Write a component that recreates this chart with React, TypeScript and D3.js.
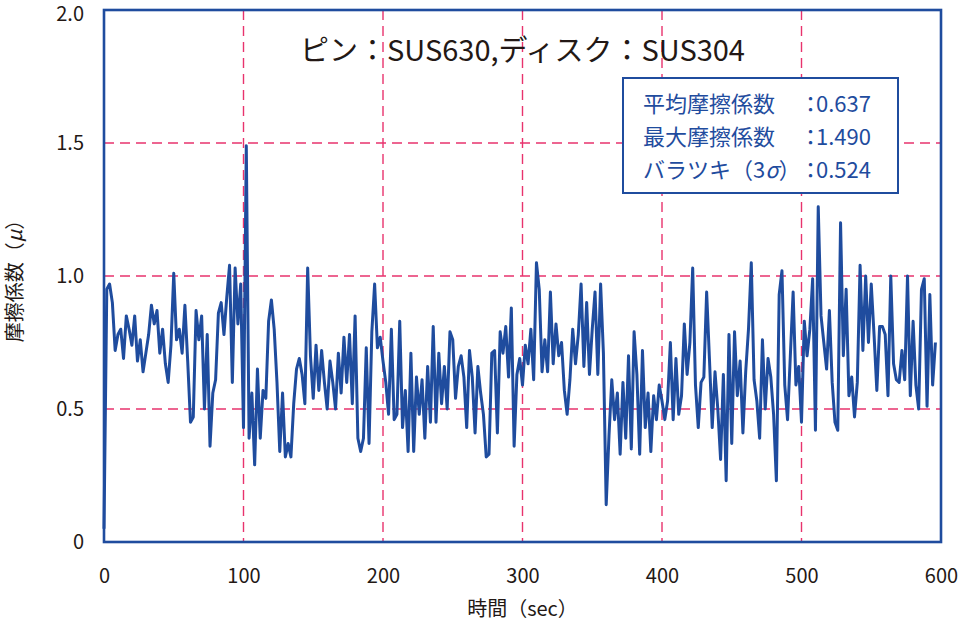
import { useEffect, useRef } from "react";
import * as d3 from "d3";

const TITLE = "ピン：SUS630,ディスク：SUS304";
const xTicks = [0, 100, 200, 300, 400, 500, 600];
const yTicks = [0, 0.5, 1.0, 1.5, 2.0];
const STEP = 2; // sec between samples

// friction coefficient, one sample every STEP seconds (0 .. 596 s)
const friction = [
  0.05, 0.95, 0.97, 0.90, 0.72, 0.78, 0.80, 0.69, 0.85, 0.80,
  0.74, 0.85, 0.68, 0.76, 0.64, 0.71, 0.78, 0.89, 0.82, 0.87,
  0.71, 0.80, 0.67, 0.60, 0.74, 1.01, 0.76, 0.80, 0.71, 0.89,
  0.68, 0.45, 0.47, 0.87, 0.76, 0.85, 0.50, 0.78, 0.36, 0.56,
  0.61, 0.86, 0.90, 0.78, 0.92, 1.04, 0.60, 1.03, 0.82, 0.97,
  0.43, 1.49,
  0.39, 0.56, 0.29, 0.65, 0.39, 0.57, 0.54, 0.83, 0.91, 0.80,
  0.60, 0.34, 0.56, 0.32, 0.37, 0.32, 0.52, 0.65, 0.69, 0.63,
  0.52, 1.03, 0.70, 0.54, 0.74, 0.57, 0.72, 0.60, 0.50, 0.68,
  0.60, 0.50, 0.71, 0.56, 0.77, 0.60, 0.78, 0.52, 0.85, 0.39,
  0.34, 0.39, 0.73, 0.37, 0.79, 0.97, 0.73, 0.77, 0.68,
  0.60, 0.48, 0.80, 0.46, 0.48, 0.83, 0.43, 0.57, 0.34, 0.71,
  0.34, 0.62, 0.48, 0.61, 0.39, 0.66, 0.45, 0.81, 0.45, 0.71,
  0.52, 0.66, 0.50, 0.79, 0.76, 0.54, 0.66, 0.70, 0.62, 0.43,
  0.72, 0.62, 0.41, 0.66, 0.56, 0.48, 0.32, 0.33, 0.71, 0.72,
  0.41, 0.79, 0.71, 0.81, 0.62, 0.88, 0.36, 0.63, 0.69, 0.59,
  0.74, 0.67, 0.80, 0.61, 1.05, 0.95, 0.64, 0.76, 0.64, 0.94,
  0.67, 0.82, 0.70, 0.75, 0.57, 0.48, 0.61, 0.80, 0.67, 0.78,
  0.97, 0.66, 0.90, 0.63, 0.80, 0.94, 0.63, 0.97, 0.71, 0.14,
  0.40, 0.61, 0.46, 0.56, 0.33, 0.60, 0.39, 0.70, 0.35, 0.79,
  0.63, 0.33, 0.72, 0.43, 0.56, 0.34, 0.55, 0.46, 0.59, 0.53,
  0.46, 0.53, 0.75, 0.46, 0.69, 0.48, 0.55, 0.82, 0.63, 0.75,
  1.03, 0.59, 0.43, 0.60, 0.62, 0.94, 0.69, 0.43, 0.64, 0.50,
  0.31, 0.63, 0.23, 0.78, 0.37, 0.79, 0.55, 0.68, 0.41, 0.64,
  0.80, 1.05, 0.61, 0.53, 0.39, 0.76, 0.50, 0.69, 0.62, 0.48,
  0.23, 0.93, 1.02, 0.59, 0.46, 0.70, 0.94, 0.59, 0.66, 0.45,
  0.83, 0.70, 0.80, 0.99, 0.42, 1.26, 0.85, 0.75, 0.65, 0.87,
  0.60, 0.45, 0.42, 1.20, 0.70, 0.95, 0.55, 0.62, 0.47, 0.60,
  1.04, 0.72, 1.00, 0.75, 0.97, 0.78, 0.57, 0.81, 0.81, 0.78,
  0.55, 1.00, 0.67, 0.61, 0.60, 0.72, 0.61, 1.00, 0.55, 0.83,
  0.59, 0.50, 0.95, 0.99, 0.51, 0.93, 0.59, 0.75,
];

const statNames = ["平均摩擦係数", "最大摩擦係数", "バラツキ（3σ）"];
const statValues = ["0.637", "1.490", "0.524"];

const BLUE = "#1f4c9e";
const PINK = "#e8336d";
const INK = "#231815";
const FONT = '"Noto Sans CJK JP", "Noto Sans", sans-serif';

export default function App() {
  const svgRef = useRef<SVGSVGElement>(null);
  const W = 962, H = 627;
  const m = { top: 10, right: 21, bottom: 85, left: 104 };
  const iW = W - m.left - m.right;
  const iH = H - m.top - m.bottom;

  useEffect(() => {
    if (!svgRef.current) return;
    const svg = d3.select(svgRef.current);
    svg.selectAll("*").remove();

    const x = d3.scaleLinear().domain([0, 600]).range([0, iW]);
    const y = d3.scaleLinear().domain([0, 2]).range([iH, 0]);

    const g = svg.append("g").attr("transform", `translate(${m.left},${m.top})`);

    /* grid */
    g.append("g").selectAll("line")
      .data(xTicks.filter(t => t > 0 && t < 600))
      .join("line")
      .attr("x1", d => x(d)).attr("x2", d => x(d))
      .attr("y1", 0).attr("y2", iH)
      .attr("stroke", PINK).attr("stroke-width", 1.4).attr("stroke-dasharray", "10 6");
    g.append("g").selectAll("line")
      .data(yTicks.filter(t => t > 0 && t < 2))
      .join("line")
      .attr("x1", 0).attr("x2", iW)
      .attr("y1", d => y(d)).attr("y2", d => y(d))
      .attr("stroke", PINK).attr("stroke-width", 1.4).attr("stroke-dasharray", "10 6");

    /* series */
    const line = d3.line<number>().x((_, i) => x(i * STEP)).y(d => y(d));
    g.append("path")
      .attr("d", line(friction) ?? "")
      .attr("fill", "none").attr("stroke", BLUE).attr("stroke-width", 3)
      .attr("stroke-linejoin", "round");

    /* frame */
    g.append("rect").attr("width", iW).attr("height", iH)
      .attr("fill", "none").attr("stroke", BLUE).attr("stroke-width", 2.6);

    /* axes */
    const xAxis = d3.axisBottom(x).tickValues(xTicks).tickSize(0).tickPadding(27);
    g.append("g").attr("transform", `translate(0,${iH})`).call(xAxis as any)
      .call((a: any) => a.select(".domain").remove())
      .call((a: any) => a.selectAll("text").attr("fill", INK).attr("font-size", 20).attr("font-family", FONT));

    const yAxis = d3.axisLeft(y).tickValues(yTicks).tickSize(0).tickPadding(20)
      .tickFormat((v: any) => (v === 0 ? "0" : v.toFixed(1)));
    g.append("g").call(yAxis as any)
      .call((a: any) => a.select(".domain").remove())
      .call((a: any) => a.selectAll("text").attr("fill", INK).attr("font-size", 20).attr("font-family", FONT))
      .call((a: any) => a.selectAll("text").filter((d: number) => d === 2).attr("dy", "0.5em"));

    /* axis labels */
    svg.append("text")
      .attr("x", m.left + iW / 2).attr("y", 616)
      .attr("text-anchor", "middle").attr("font-size", 20).attr("font-family", FONT).attr("fill", INK)
      .text("時間（sec）");

    const yl = svg.append("text")
      .attr("transform", `translate(22,${m.top + iH / 2}) rotate(-90)`)
      .attr("text-anchor", "middle").attr("font-size", 20).attr("font-family", FONT).attr("fill", INK);
    yl.append("tspan").text("摩擦係数（");
    yl.append("tspan").attr("font-style", "italic").text("μ");
    yl.append("tspan").text("）");

    /* title */
    svg.append("text")
      .attr("x", m.left + iW / 2).attr("y", 61)
      .attr("text-anchor", "middle").attr("font-size", 29).attr("font-family", FONT).attr("fill", INK)
      .text(TITLE);

    /* stats box */
    const box = svg.append("g").attr("transform", "translate(623,78)");
    box.append("rect").attr("width", 275).attr("height", 115)
      .attr("fill", "#fff").attr("stroke", BLUE).attr("stroke-width", 2);
    statNames.forEach((name, i) => {
      const t = box.append("text")
        .attr("x", 20).attr("y", 34 + i * 33)
        .attr("font-size", 22).attr("font-family", FONT).attr("fill", BLUE);
      const sig = name.indexOf("σ");
      if (sig >= 0) {
        t.append("tspan").text(name.slice(0, sig));
        t.append("tspan").attr("font-style", "italic").text("σ");
        t.append("tspan").text(name.slice(sig + 1));
      } else {
        t.text(name);
      }
      box.append("text")
        .attr("x", 182).attr("y", 34 + i * 33)
        .attr("font-size", 22).attr("font-family", FONT).attr("fill", BLUE)
        .style("font-feature-settings", '"palt"')
        .text("：" + statValues[i]);
    });
  }, [iH, iW, m.left, m.top]);

  return (
    <svg
      ref={svgRef}
      width={W}
      height={H}
      style={{ position: "absolute", left: 0, top: 0, background: "#fff" }}
    />
  );
}
